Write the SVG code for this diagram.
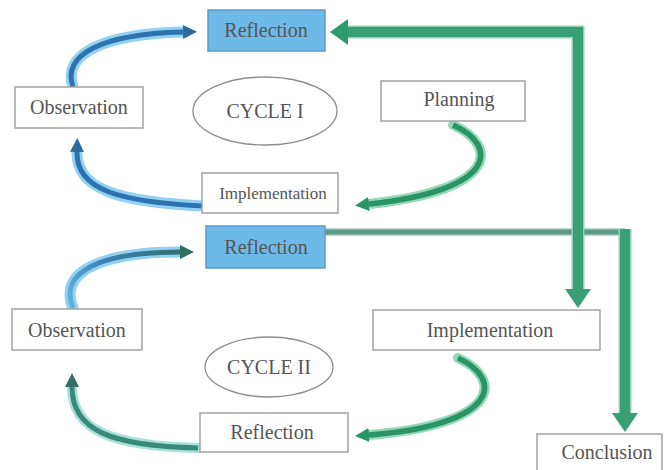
<svg xmlns="http://www.w3.org/2000/svg" width="664" height="470" viewBox="0 0 664 470">
<style>
.box{fill:#ffffff;stroke:#a3a3a3;stroke-width:1.5}
.blue{fill:#6db9e8;stroke:#5a9ccc;stroke-width:1.5}
.ell{fill:#ffffff;stroke:#8c8c8c;stroke-width:1.3}
.t{font-family:"Liberation Serif","Times New Roman",serif;font-size:20px;fill:#555555;text-anchor:middle}
.ts{font-size:17px}
.glowB{fill:none;stroke:#92d1f2;stroke-width:11;stroke-linecap:round}
.coreB{fill:none;stroke:#2c73b0;stroke-width:5}
.glowG{fill:none;stroke:#93d8b8;stroke-width:10;stroke-linecap:round}
.coreG{fill:none;stroke:#2a9466;stroke-width:5.5}
.glowT{fill:none;stroke:#a6e2da;stroke-width:10;stroke-linecap:round}
.coreT{fill:none;stroke:#3a8a78;stroke-width:5}
.big{fill:none;stroke:#3a9e76;stroke-width:10}
.bigGlow{fill:none;stroke:#8fd3b5;stroke-width:13}
</style>
<defs>
<marker id="aB" markerUnits="userSpaceOnUse" markerWidth="16" markerHeight="16" refX="0" refY="8" orient="auto"><path d="M0,1 L14,8 L0,15 z" fill="#2c6aa0"/></marker>
<marker id="aG" markerUnits="userSpaceOnUse" markerWidth="16" markerHeight="16" refX="0" refY="8" orient="auto"><path d="M0,1 L14,8 L0,15 z" fill="#2a9466"/></marker>
<marker id="aT" markerUnits="userSpaceOnUse" markerWidth="16" markerHeight="16" refX="0" refY="8" orient="auto"><path d="M0,1 L14,8 L0,15 z" fill="#2f6f66"/></marker>
<linearGradient id="gOR" gradientUnits="userSpaceOnUse" x1="70" y1="308" x2="190" y2="252">
<stop offset="0" stop-color="#5fb3df"/><stop offset="0.35" stop-color="#3d84b8"/><stop offset="1" stop-color="#2d6f6a"/>
</linearGradient>
</defs>

<g id="connectors">
<!-- Reflection II to Conclusion -->
<path d="M325 232 L625 232" fill="none" stroke="#b9d8cc" stroke-width="8"/>
<path d="M325 232 L625 232" fill="none" stroke="#5e9a86" stroke-width="5"/>
<path class="bigGlow" d="M625 229 L625 416"/>
<path class="big" d="M625 229 L625 416"/>
<polygon points="625,432 612,413 638,413" fill="#3a9e76"/>
<!-- Implementation II to Reflection I (and down) -->
<path class="bigGlow" d="M578 292 L578 32 L346 32"/>
<path class="big" d="M578 292 L578 32 L346 32"/>
<polygon points="330,32 348,19 348,45" fill="#2f9a6c"/>
<polygon points="578,308 565,289 591,289" fill="#3a9e76"/>

<!-- Cycle I curves -->
<path class="glowB" d="M73 87 C62 55 100 34 183 32"/>
<path class="coreB" d="M73 87 C62 55 100 34 183 32" marker-end="url(#aB)"/>
<path class="glowB" d="M203 206 C120 202 76 190 77 152"/>
<path class="coreB" d="M203 206 C120 202 76 190 77 152" marker-end="url(#aB)"/>
<path class="glowG" d="M453 125 C498 145 500 190 369 204"/>
<path class="coreG" d="M453 125 C498 145 500 190 369 204" marker-end="url(#aG)"/>

<!-- Cycle II curves -->
<path class="glowB" d="M73 308 C58 272 100 252 180 252"/>
<path fill="none" stroke="url(#gOR)" stroke-width="5" d="M73 308 C58 272 100 252 180 252" marker-end="url(#aT)"/>
<path class="glowT" d="M198 448 C110 446 72 430 72 387"/>
<path class="coreT" d="M198 448 C110 446 72 430 72 387" marker-end="url(#aT)"/>
<path class="glowG" d="M458 358 C505 380 498 425 369 435"/>
<path class="coreG" d="M458 358 C505 380 498 425 369 435" marker-end="url(#aG)"/>
</g>

<g id="reflection1"><rect class="blue" x="208" y="10" width="117" height="41"/><text class="t" x="266" y="37">Reflection</text></g>
<g id="observation1"><rect class="box" x="15" y="87" width="128" height="41"/><text class="t" x="79" y="114">Observation</text></g>
<g id="cycle1"><ellipse class="ell" cx="265" cy="111" rx="72" ry="34"/><text class="t" x="265" y="118">CYCLE I</text></g>
<g id="planning"><rect class="box" x="381" y="81" width="144" height="40"/><text class="t" x="459" y="106">Planning</text></g>
<g id="implementation1"><rect class="box" x="202" y="173" width="136" height="40"/><text class="t ts" x="273" y="199">Implementation</text></g>

<g id="reflection2"><rect class="blue" x="206" y="226" width="119" height="42"/><text class="t" x="266" y="254">Reflection</text></g>
<g id="observation2"><rect class="box" x="12" y="309" width="130" height="41"/><text class="t" x="77" y="337">Observation</text></g>
<g id="cycle2"><ellipse class="ell" cx="269" cy="367" rx="64" ry="30"/><text class="t" x="269" y="374">CYCLE II</text></g>
<g id="implementation2"><rect class="box" x="373" y="310" width="227" height="40"/><text class="t" x="490" y="337">Implementation</text></g>
<g id="reflection3"><rect class="box" x="200" y="413" width="148" height="39"/><text class="t" x="272" y="439">Reflection</text></g>
<g id="conclusion"><rect class="box" x="537" y="434" width="125" height="42"/><text class="t" x="607" y="459">Conclusion</text></g>
</svg>
